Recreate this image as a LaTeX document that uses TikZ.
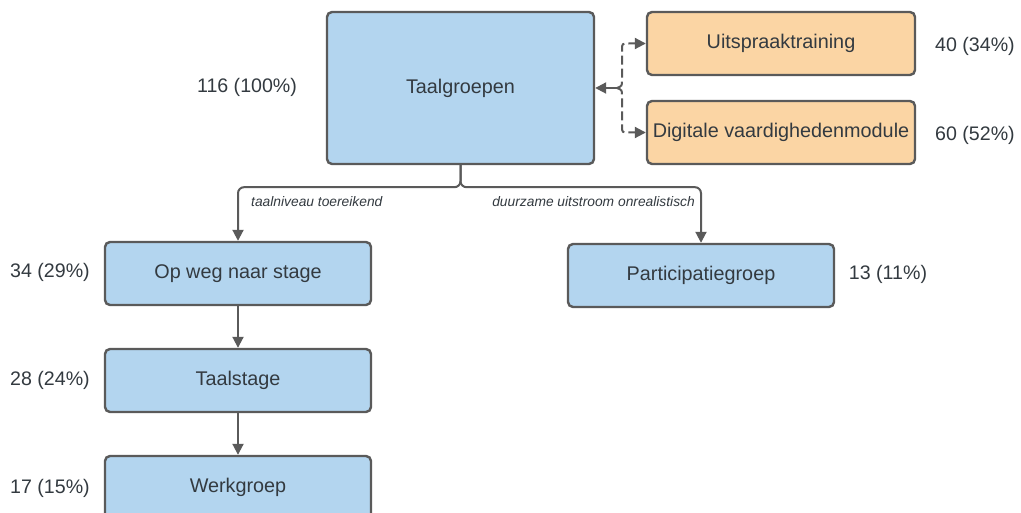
\documentclass[tikz,border=0pt]{standalone}
\usepackage{fontspec}
\setmainfont{Liberation Sans}
\usetikzlibrary{arrows.meta}
\definecolor{boxblue}{HTML}{B3D5EF}
\definecolor{boxorange}{HTML}{FBD5A4}
\definecolor{edgegray}{HTML}{5A5A5A}
\definecolor{txt}{HTML}{333A40}
\tikzset{
  box/.style={draw=edgegray, line width=2.4pt, rounded corners=5pt, text=txt,
    font=\fontsize{19.8}{23}\selectfont, inner sep=0pt},
  bluebox/.style={box, fill=boxblue, minimum width=266pt, minimum height=63pt},
  orangebox/.style={box, fill=boxorange, minimum width=268pt, minimum height=63pt},
  count/.style={text=txt, font=\fontsize{19.6}{23}\selectfont, inner sep=0pt},
  edgelab/.style={text=txt, font=\fontsize{13.8}{16}\selectfont\itshape, inner sep=0pt},
  conn/.style={draw=edgegray, line width=2pt},
  tip/.style={-{Triangle[length=11pt,width=11pt]}}
}
\begin{document}
\begin{tikzpicture}[x=1pt,y=-1pt]
\useasboundingbox[fill=white] (0,0) rectangle (1021,513);
\clip (0,0) rectangle (1021,513);
% nodes
\node[bluebox, minimum width=267pt, minimum height=152pt] (t) at (460.5,88) {Taalgroepen};
\node[orangebox] (u) at (781,43.5) {Uitspraaktraining};
\node[orangebox] (d) at (781,132.5) {Digitale vaardighedenmodule};
\node[bluebox] (o) at (238,273.5) {Op weg naar stage};
\node[bluebox] (p) at (701,275.5) {Participatiegroep};
\node[bluebox] (s) at (238,380.5) {Taalstage};
\node[bluebox] (w) at (238,487.5) {Werkgroep};
% counts
\node[count] (ct) at (247,87) {116 (100\%)};
\node[count] (cu) at (975,46) {40 (34\%)};
\node[count] (cd) at (975,135) {60 (52\%)};
\node[count] (co) at (50,272) {34 (29\%)};
\node[count] (cs) at (50,380) {28 (24\%)};
\node[count] (cw) at (50,488) {17 (15\%)};
\node[count] (cp) at (888,274) {13 (11\%)};
% brace connector
\coordinate (bp) at (617,88);
\draw[conn, tip] (bp) -- (t.east);
\draw[conn, tip, dash pattern=on 9pt off 4pt] (bp) .. controls (622,86) .. (622,80) -- (622,50)
  .. controls (622,43.5) .. (629,43.5) -- (u.west);
\draw[conn, tip, dash pattern=on 9pt off 4pt] (bp) .. controls (622,90) .. (622,96) -- (622,126)
  .. controls (622,132.5) .. (629,132.5) -- (d.west);
% branch connectors
\draw[conn, tip, rounded corners=6pt] (t.south) -- ++(0,22) -| (o.north);
\draw[conn, tip, rounded corners=6pt] (t.south) -- ++(0,22) -| (p.north);
\node[edgelab, anchor=west] (l1) at (251,202) {taalniveau toereikend};
\node[edgelab, anchor=east] (l2) at (695,202) {duurzame uitstroom onrealistisch};
% vertical chain
\draw[conn, tip] (o.south) -- (s.north);
\draw[conn, tip] (s.south) -- (w.north);
\end{tikzpicture}
\end{document}
